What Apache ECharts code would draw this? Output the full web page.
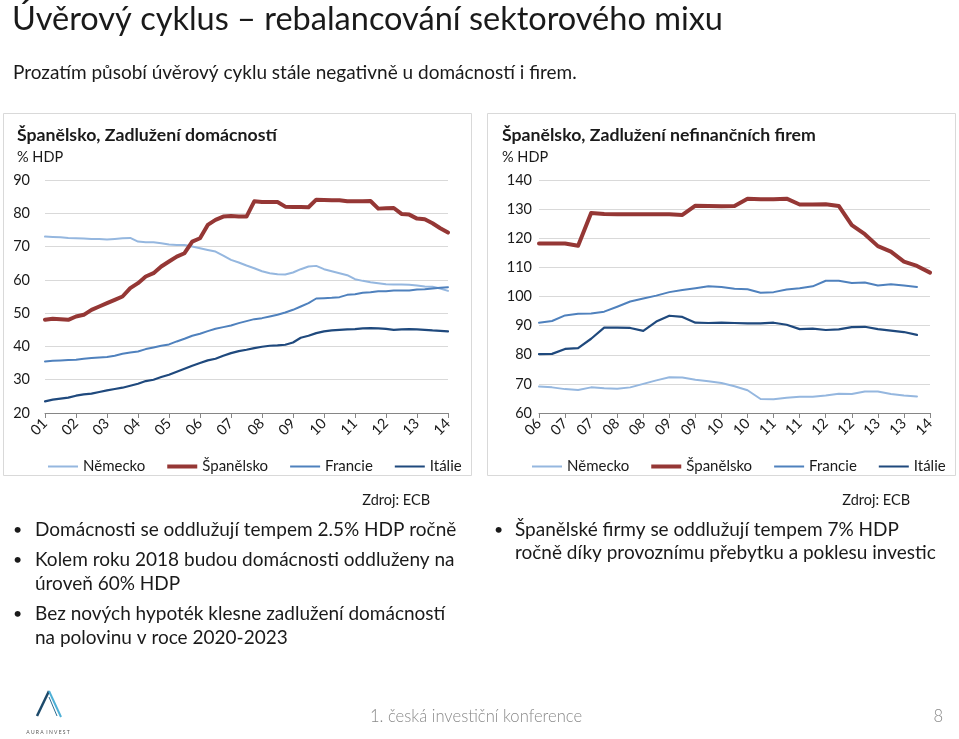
<!DOCTYPE html>
<html>
<head>
<meta charset="utf-8">
<script src="https://cdn.jsdelivr.net/npm/echarts@6/dist/echarts.min.js"></script>
<style>
html,body{margin:0;padding:0;background:#fff;}
#c{width:959px;height:739px;}
</style>
</head>
<body>
<div id="c"></div>
<script>
// ---------- DATA ----------
var seriesNames = ['Německo', 'Španělsko', 'Francie', 'Itálie'];

// Left chart: households debt, % GDP, quarterly 2001Q1 - 2014Q1
var hhTickLabels = ['01','02','03','04','05','06','07','08','09','10','11','12','13','14'];
var hhGermany = [73.0,72.9,72.8,72.6, 72.5,72.4,72.3,72.3, 72.1,72.3,72.5,72.6, 71.5,71.3,71.3,71.0,
  70.6,70.5,70.5,70.0, 69.5,69.0,68.5,67.3, 66.0,65.2,64.3,63.5, 62.6,62.0,61.7,61.6,
  62.2,63.2,64.0,64.2, 63.2,62.6,62.0,61.4, 60.2,59.7,59.3,59.0, 58.7,58.6,58.6,58.5,
  58.3,58.0,57.9,57.4,56.7];
var hhSpain = [48.0,48.3,48.2,48.0, 49.0,49.5,51.0,52.0, 53.0,54.0,55.0,57.5, 59.0,61.0,62.0,64.0,
  65.5,67.0,68.0,71.5, 72.5,76.5,78.0,79.0, 79.2,79.0,79.0,83.6, 83.4,83.4,83.4,82.0,
  81.9,81.9,81.8,84.1, 84.0,83.9,83.9,83.6, 83.6,83.6,83.7,81.4, 81.5,81.6,79.8,79.6,
  78.4,78.2,77.0,75.5,74.2];
var hhFrance = [35.5,35.7,35.8,35.9, 36.0,36.3,36.5,36.7, 36.8,37.2,37.8,38.2, 38.5,39.2,39.7,40.2,
  40.6,41.5,42.3,43.2, 43.8,44.6,45.3,45.8, 46.3,47.0,47.6,48.2, 48.5,49.0,49.5,50.2,
  51.0,52.0,53.0,54.4, 54.5,54.6,54.8,55.5, 55.7,56.1,56.3,56.6, 56.6,56.8,56.8,56.8,
  57.1,57.2,57.4,57.6,57.8];
var hhItaly = [23.5,24.0,24.3,24.6, 25.2,25.6,25.8,26.3, 26.8,27.2,27.6,28.2, 28.8,29.6,30.0,30.8,
  31.5,32.4,33.3,34.2, 35.0,35.8,36.3,37.2, 38.0,38.6,39.0,39.5, 39.9,40.2,40.3,40.5,
  41.2,42.6,43.2,44.0, 44.5,44.8,45.0,45.1, 45.2,45.4,45.5,45.4, 45.3,45.0,45.1,45.2,
  45.1,45.0,44.8,44.7,44.5];

// Right chart: non-financial corporations debt, % GDP, quarterly 2006Q3 - 2014Q1
var nfcTickLabels = ['06','07','07','08','08','09','09','10','10','11','11','12','12','13','13','14'];
var nfcGermany = [69.1,68.8,68.2,67.9, 68.8,68.5,68.3,68.8, 70.0,71.2,72.3,72.2, 71.4,70.9,70.3,69.2,
  67.8,64.8,64.7,65.2, 65.6,65.6,66.0,66.6, 66.5,67.4,67.4,66.5, 66.0,65.7,null];
var nfcSpain = [118.2,118.2,118.2,117.4, 128.7,128.3,128.2,128.2, 128.2,128.2,128.2,128.0, 131.2,131.1,131.0,131.1,
  133.6,133.4,133.4,133.6, 131.6,131.6,131.7,131.1, 124.5,121.4,117.3,115.4, 112.0,110.5,108.2];
var nfcFrance = [91.0,91.6,93.5,94.1, 94.2,94.8,96.5,98.3, 99.3,100.3,101.5,102.2, 102.8,103.5,103.3,102.7,
  102.5,101.3,101.5,102.4, 102.8,103.5,105.4,105.4, 104.6,104.8,103.8,104.2, 103.8,103.3,null];
var nfcItaly = [80.2,80.3,82.0,82.3, 85.5,89.3,89.3,89.2, 88.2,91.4,93.4,93.0, 91.0,90.9,91.0,90.9,
  90.8,90.8,91.0,90.3, 88.8,89.0,88.5,88.7, 89.5,89.6,88.8,88.3, 87.8,86.8,null];

// ---------- CATEGORY AXES (quarter positions) ----------
var hhCats = hhGermany.map(function(_, i){ return 'hh' + i; });
var nfcCats = nfcSpain.map(function(_, i){ return 'nfc' + i; });

var colors = {'Německo':'#95B7DF','Španělsko':'#953735','Francie':'#4F81BD','Itálie':'#1F497D'};
var widths = {'Německo':2,'Španělsko':4,'Francie':2,'Itálie':2.2};

var FONT = 'Lato, "Open Sans", sans-serif';
var TXT = '#1a1a1a';

// legend icons: a horizontal bar inside a 30x14 box (corner anchors are zero-area)
var ANCH = 'M0,0 L0.01,0 L0,0 Z M30,14 L29.99,14 L30,14 Z ';
var iconThin = 'path://' + ANCH + 'M0,6 L30,6 L30,8 L0,8 Z';
var iconThick = 'path://' + ANCH + 'M0,5 L30,5 L30,9 L0,9 Z';
function legendData(){
  return seriesNames.map(function(n){
    return {name: n, icon: n === 'Španělsko' ? iconThick : iconThin, itemStyle: {color: colors[n]}};
  });
}

function mkSeries(name, data, idx){
  return {
    name: name, type: 'line', data: data,
    xAxisIndex: idx, yAxisIndex: idx,
    symbol: 'none', showSymbol: false,
    connectNulls: false,
    lineStyle: {color: colors[name], width: widths[name], join: 'round', cap: 'round'},
    itemStyle: {color: colors[name]},
    z: name === 'Španělsko' ? 4 : 3,
    animation: false
  };
}

function xAxisCfg(gridIndex, cats, every, labels){
  return {
    type: 'category', gridIndex: gridIndex, data: cats, boundaryGap: false,
    axisLine: {show: true, lineStyle: {color: '#868686', width: 1}},
    axisTick: {show: true, interval: every - 1, length: 5, lineStyle: {color: '#868686'}},
    axisLabel: {
      interval: every - 1, rotate: 45, margin: 8,
      fontFamily: FONT, fontSize: 14.5, color: TXT,
      formatter: function(v, i){ return labels[Math.round(i / every)]; }
    },
    splitLine: {show: false}
  };
}

function yAxisCfg(gridIndex, min, max, margin){
  return {
    type: 'value', gridIndex: gridIndex, min: min, max: max, interval: 10,
    axisLine: {show: false}, axisTick: {show: false},
    axisLabel: {fontFamily: FONT, fontSize: 14.5, color: TXT, margin: margin},
    splitLine: {show: true, lineStyle: {color: '#d9d9d9', width: 1}}
  };
}

function txt(text, x, y, size, opts){
  opts = opts || {};
  return {
    type: 'text', x: x, y: y, z: 10, silent: true,
    style: {
      text: text,
      font: (opts.weight || 'normal') + ' ' + size + 'px ' + FONT,
      fill: opts.color || TXT,
      textAlign: opts.align || 'left', align: opts.align || 'left',
      textVerticalAlign: 'middle', verticalAlign: 'middle'
    }
  };
}

var graphics = [
  // panel borders
  {type:'rect', shape:{x:3.5,y:113.5,width:468,height:362}, style:{fill:'none',stroke:'#d9d9d9',lineWidth:1}, z:0, silent:true},
  {type:'rect', shape:{x:487.5,y:113.5,width:468,height:362}, style:{fill:'none',stroke:'#d9d9d9',lineWidth:1}, z:0, silent:true},
  // slide title and subtitle
  txt('Úvěrový cyklus – rebalancování sektorového mixu', 12, 20, 32.5),
  txt('Prozatím působí úvěrový cyklu stále negativně u domácností i firem.', 13, 73, 19),
  // panel titles
  txt('Španělsko, Zadlužení domácností', 17, 135, 17.7, {weight:'bold'}),
  txt('% HDP', 17, 157, 14.5),
  txt('Španělsko, Zadlužení nefinančních firem', 502, 135, 17.7, {weight:'bold'}),
  txt('% HDP', 502, 157, 14.5),
  // sources
  txt('Zdroj: ECB', 430, 500, 14.5, {align:'right'}),
  txt('Zdroj: ECB', 910, 500, 14.5, {align:'right'}),
  // bullets left
  txt('•', 13, 530, 16), txt('Domácnosti se oddlužují tempem 2.5% HDP ročně', 35, 530, 19),
  txt('•', 13, 560, 16), txt('Kolem roku 2018 budou domácnosti oddluženy na', 35, 560, 19),
  txt('úroveň 60% HDP', 35, 584, 19),
  txt('•', 13, 614, 16), txt('Bez nových hypoték klesne zadlužení domácností', 35, 614, 19),
  txt('na polovinu v roce 2020-2023', 35, 638, 19),
  // bullets right
  txt('•', 494, 530, 16), txt('Španělské firmy se oddlužují tempem 7% HDP', 515, 530, 19),
  txt('ročně díky provoznímu přebytku a poklesu investic', 515, 553, 19),
  // footer
  txt('1. česká investiční konference', 476, 717, 16.6, {align:'center', color:'#8a8a8a', weight:'300'}),
  txt('8', 943, 717, 16.6, {align:'right', color:'#8a8a8a', weight:'300'}),
  // logo
  {type:'polyline', shape:{points:[[37,716],[49,691]]}, style:{stroke:'#1d4a6b',lineWidth:2.5,fill:'none'}, z:10, silent:true},
  {type:'polyline', shape:{points:[[49,691],[61,717]]}, style:{stroke:'#4fb0d6',lineWidth:2,fill:'none'}, z:10, silent:true},
  {type:'polyline', shape:{points:[[49,697],[57,716]]}, style:{stroke:'#2b6d92',lineWidth:1,fill:'none'}, z:10, silent:true},
  txt('A U R A  I N V E S T', 48, 732, 5, {align:'center', color:'#555'})
];

var option = {
  backgroundColor: '#ffffff',
  animation: false,
  textStyle: {fontFamily: FONT},
  grid: [
    {left: 45, right: 511, top: 180, bottom: 326, containLabel: false},
    {left: 539, right: 29, top: 180, bottom: 326, containLabel: false}
  ],
  xAxis: [
    xAxisCfg(0, hhCats, 4, hhTickLabels),
    xAxisCfg(1, nfcCats, 2, nfcTickLabels)
  ],
  yAxis: [
    yAxisCfg(0, 20, 90, 15),
    yAxisCfg(1, 60, 140, 7)
  ],
  legend: [
    {data: legendData(), left: 43, top: 454, itemWidth: 30, itemHeight: 14, itemGap: 22,
     textStyle: {fontFamily: FONT, fontSize: 15, color: TXT}, selectedMode: false},
    {data: legendData(), left: 527, top: 454, itemWidth: 30, itemHeight: 14, itemGap: 22,
     textStyle: {fontFamily: FONT, fontSize: 15, color: TXT}, selectedMode: false}
  ],
  series: [
    mkSeries('Německo', hhGermany, 0),
    mkSeries('Španělsko', hhSpain, 0),
    mkSeries('Francie', hhFrance, 0),
    mkSeries('Itálie', hhItaly, 0),
    mkSeries('Německo', nfcGermany, 1),
    mkSeries('Španělsko', nfcSpain, 1),
    mkSeries('Francie', nfcFrance, 1),
    mkSeries('Itálie', nfcItaly, 1)
  ],
  graphic: {elements: graphics}
};

var chart = echarts.init(document.getElementById('c'), null, {renderer: 'canvas'});
chart.setOption(option);
</script>
</body>
</html>
